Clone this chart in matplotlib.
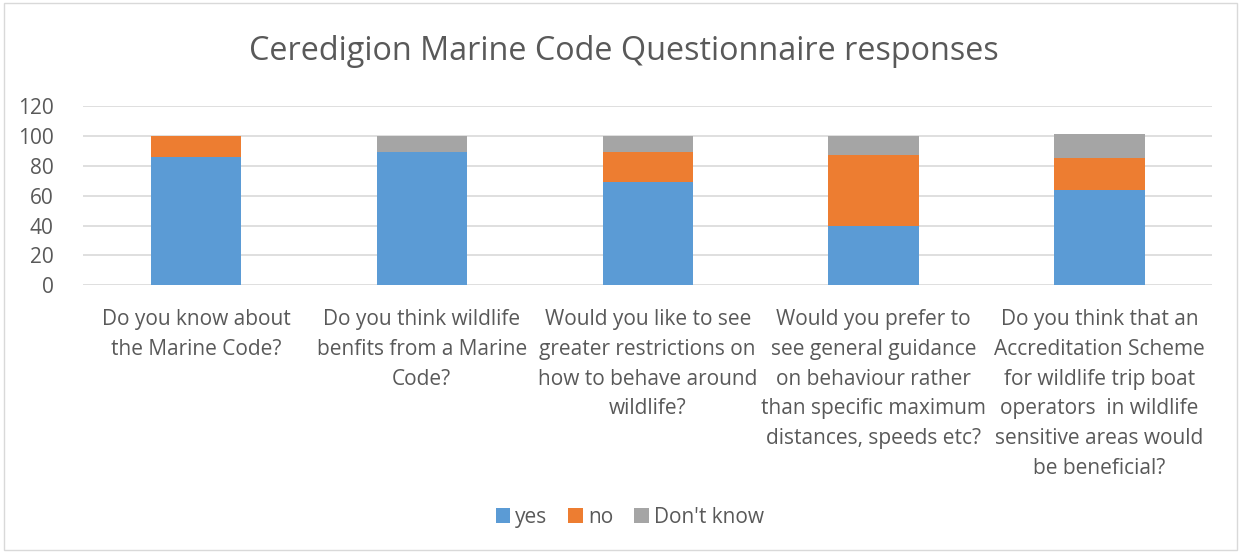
import matplotlib
matplotlib.use("Agg")
import matplotlib.pyplot as plt
from matplotlib.patches import Rectangle
import numpy as np

categories = [
    "Do you know about\nthe Marine Code?",
    "Do you think wildlife\nbenfits from a Marine\nCode?",
    "Would you like to see\ngreater restrictions on\nhow to behave around\nwildlife?",
    "Would you prefer to\nsee general guidance\non behaviour rather\nthan specific maximum\ndistances, speeds etc?",
    "Do you think that an\nAccreditation Scheme\nfor wildlife trip boat\noperators  in wildlife\nsensitive areas would\nbe beneficial?",
]
yes = [86, 89, 69, 40, 64]
no = [14, 0, 20, 47, 21]
dont_know = [0, 11, 11, 13, 16]
series_names = ["yes", "no", "Don't know"]
colors = ["#5B9BD5", "#ED7D31", "#A5A5A5"]
yticks = [0, 20, 40, 60, 80, 100, 120]

plt.rcParams['font.family'] = ['Open Sans', 'DejaVu Sans']
txt = "#595959"

fig = plt.figure(figsize=(12.41, 5.52), dpi=100)
ax = fig.add_axes([0.0669, 0.483, 0.9101, 0.325])

x = np.arange(len(categories))
w = 0.4
b1 = ax.bar(x, yes, w, color=colors[0], label=series_names[0], zorder=3)
b2 = ax.bar(x, no, w, bottom=yes, color=colors[1], label=series_names[1], zorder=3)
bottom2 = np.array(yes) + np.array(no)
b3 = ax.bar(x, dont_know, w, bottom=bottom2, color=colors[2], label=series_names[2], zorder=3)

ax.set_xlim(-0.5, len(categories) - 0.5)
ax.set_ylim(0, 120)
ax.set_yticks(yticks)
ax.yaxis.grid(True, color="#D9D9D9", linewidth=1.2, zorder=0)
for s in ax.spines.values():
    s.set_visible(False)
ax.tick_params(axis='both', length=0, colors=txt, labelsize=15)
ax.tick_params(axis='y', pad=21)
ax.set_xticks(x)
ax.set_xticklabels(categories, linespacing=1.55)
ax.tick_params(axis='x', pad=17)
for lab in ax.get_xticklabels():
    lab.set_color(txt)

fig.text(0.503, 0.907, "Ceredigion Marine Code Questionnaire responses",
         ha='center', va='center', fontsize=23.3, color=txt)

leg = fig.legend(handles=[b1, b2, b3], labels=series_names, loc='center',
                 bbox_to_anchor=(0.5075, 0.063), ncol=3, frameon=False,
                 fontsize=15, handlelength=0.7, handleheight=0.7,
                 handletextpad=0.25, columnspacing=1.0)
for t in leg.get_texts():
    t.set_color(txt)

fig.patches.append(Rectangle((0.003, 0.003), 0.994, 0.992, transform=fig.transFigure,
                             fill=False, edgecolor="#D9D9D9", linewidth=1))

fig.savefig("out.png", dpi=100, facecolor="white")
